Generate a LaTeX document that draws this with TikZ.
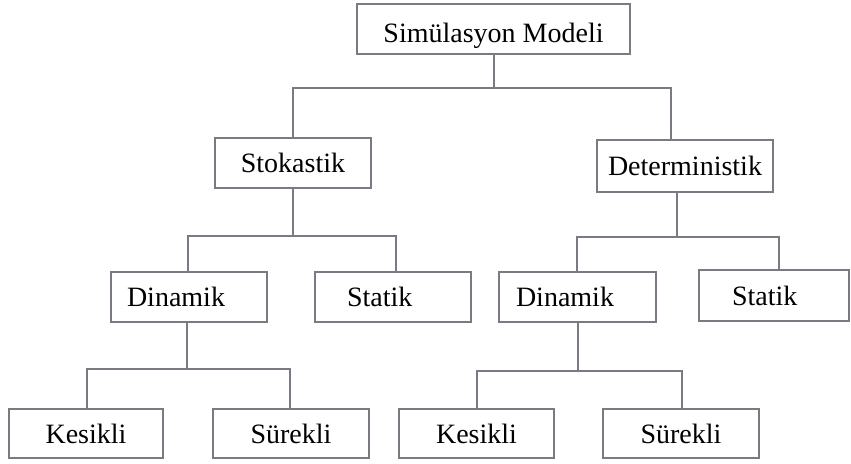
\documentclass[tikz,border=0pt]{standalone}
\usepackage{fontspec}
\setmainfont{Liberation Serif}
\definecolor{linegray}{RGB}{120,124,130}
\begin{document}
\begin{tikzpicture}[x=1pt,y=-1pt,
  box/.style={draw=linegray,line width=2pt,inner sep=0pt,font=\fontsize{28}{32}\selectfont,text=black},
  leftbox/.style={box,align=left,minimum height=#1},
  conn/.style={draw=linegray,line width=2pt}]
\useasboundingbox (0,0) rectangle (851,463);
% level 0
\node[box,minimum width=273pt,minimum height=50pt,text height=30pt,text depth=4pt] (sim) at (493.5,29) {Simülasyon Modeli};
% level 1
\node[box,minimum width=156pt,minimum height=50pt] (sto) at (293,163) {Stokastik};
\node[box,minimum width=176pt,minimum height=52pt] (det) at (685,166) {Deterministik};
% level 2
\node[leftbox=50pt,text width=124pt,inner xsep=16pt] (din1) at (189,297) {Dinamik};
\node[leftbox=50pt,text width=92pt,inner xsep=32pt] (sta1) at (393,297) {Statik};
\node[leftbox=50pt,text width=123pt,inner xsep=17pt] (din2) at (577.5,297) {Dinamik};
\node[leftbox=51pt,text width=84pt,inner xsep=33pt] (sta2) at (774,295.5) {Statik};
% level 3
\node[box,minimum width=154pt,minimum height=49pt] (kes1) at (86,433.5) {Kesikli};
\node[box,minimum width=156pt,minimum height=49pt] (sur1) at (291,433.5) {Sürekli};
\node[box,minimum width=155pt,minimum height=49pt] (kes2) at (476.5,433.5) {Kesikli};
\node[box,minimum width=156pt,minimum height=49pt] (sur2) at (681,433.5) {Sürekli};
% junctions
\coordinate (j1) at (493.5,88);
\coordinate (j2) at (293,236);
\coordinate (j3) at (677,237);
\coordinate (j4) at (187,369);
\coordinate (j5) at (577.5,371);
% connectors
\draw[conn] (sim.south) -- (j1);
\draw[conn] (sto.north) |- (j1) -| ([xshift=-14pt]det.north);
\draw[conn] (sto.south) -- (j2);
\draw[conn] ([xshift=-1pt]din1.north) |- (j2) -| ([xshift=3pt]sta1.north);
\draw[conn] ([xshift=-8pt]det.south) -- (j3);
\draw[conn] ([xshift=-1pt]din2.north) |- (j3) -| ([xshift=5pt]sta2.north);
\draw[conn] ([xshift=-2pt]din1.south) -- (j4);
\draw[conn] ([xshift=1pt]kes1.north) |- (j4) -| ([xshift=-1pt]sur1.north);
\draw[conn] (din2.south) -- (j5);
\draw[conn] ([xshift=0.5pt]kes2.north) |- (j5) -| ([xshift=1pt]sur2.north);
\end{tikzpicture}
\end{document}
